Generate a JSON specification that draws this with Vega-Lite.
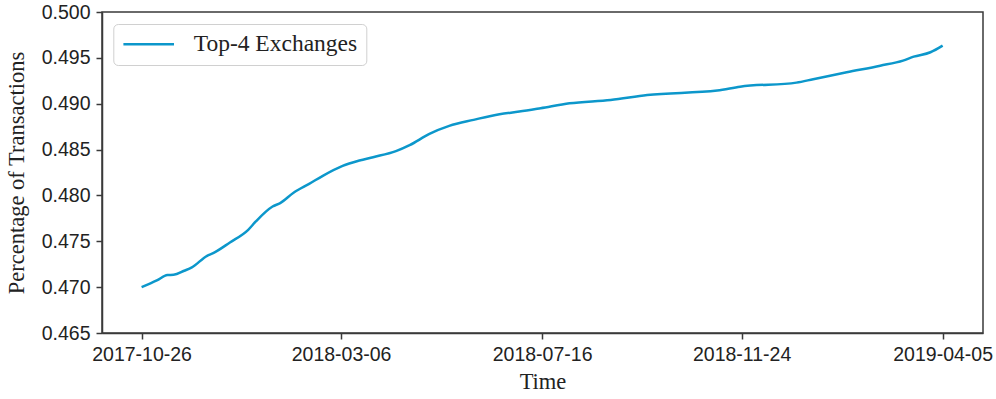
{
  "$schema": "https://vega.github.io/schema/vega-lite/v6.json",
  "width": 881,
  "height": 321,
  "autosize": {"type": "none"},
  "padding": {"left": 102, "top": 12, "right": 13, "bottom": 66},
  "background": "white",
  "config": {
    "view": {"stroke": "#3a3a3a", "strokeWidth": 1.5},
    "axis": {
      "domainColor": "#3a3a3a",
      "domainWidth": 1.5,
      "tickColor": "#3a3a3a",
      "tickWidth": 1.5,
      "tickSize": 6,
      "grid": false,
      "labelFont": "Liberation Sans",
      "labelFontSize": 19.5,
      "labelColor": "#222222",
      "titleFont": "Liberation Serif",
      "titleFontSize": 22.5,
      "titleFontWeight": "normal",
      "titleColor": "#222222"
    }
  },
  "data": {
    "values": [
      {"date": "2017-10-26", "share": 0.4700, "series": "Top-4 Exchanges"},
      {"date": "2017-11-05", "share": 0.47073, "series": "Top-4 Exchanges"},
      {"date": "2017-11-12", "share": 0.47132, "series": "Top-4 Exchanges"},
      {"date": "2017-11-16", "share": 0.47135, "series": "Top-4 Exchanges"},
      {"date": "2017-11-23", "share": 0.47179, "series": "Top-4 Exchanges"},
      {"date": "2017-11-28", "share": 0.47215, "series": "Top-4 Exchanges"},
      {"date": "2017-12-08", "share": 0.47342, "series": "Top-4 Exchanges"},
      {"date": "2017-12-12", "share": 0.47371, "series": "Top-4 Exchanges"},
      {"date": "2017-12-23", "share": 0.47487, "series": "Top-4 Exchanges"},
      {"date": "2018-01-04", "share": 0.47625, "series": "Top-4 Exchanges"},
      {"date": "2018-01-09", "share": 0.47716, "series": "Top-4 Exchanges"},
      {"date": "2018-01-20", "share": 0.47879, "series": "Top-4 Exchanges"},
      {"date": "2018-01-25", "share": 0.47916, "series": "Top-4 Exchanges"},
      {"date": "2018-02-03", "share": 0.48032, "series": "Top-4 Exchanges"},
      {"date": "2018-02-13", "share": 0.48126, "series": "Top-4 Exchanges"},
      {"date": "2018-02-22", "share": 0.48214, "series": "Top-4 Exchanges"},
      {"date": "2018-03-07", "share": 0.48322, "series": "Top-4 Exchanges"},
      {"date": "2018-03-18", "share": 0.4838, "series": "Top-4 Exchanges"},
      {"date": "2018-03-27", "share": 0.48417, "series": "Top-4 Exchanges"},
      {"date": "2018-04-11", "share": 0.48483, "series": "Top-4 Exchanges"},
      {"date": "2018-04-20", "share": 0.48548, "series": "Top-4 Exchanges"},
      {"date": "2018-05-03", "share": 0.48671, "series": "Top-4 Exchanges"},
      {"date": "2018-05-16", "share": 0.48758, "series": "Top-4 Exchanges"},
      {"date": "2018-06-01", "share": 0.48824, "series": "Top-4 Exchanges"},
      {"date": "2018-06-18", "share": 0.48886, "series": "Top-4 Exchanges"},
      {"date": "2018-07-01", "share": 0.48914, "series": "Top-4 Exchanges"},
      {"date": "2018-07-15", "share": 0.48951, "series": "Top-4 Exchanges"},
      {"date": "2018-08-03", "share": 0.49005, "series": "Top-4 Exchanges"},
      {"date": "2018-08-30", "share": 0.49041, "series": "Top-4 Exchanges"},
      {"date": "2018-09-23", "share": 0.49096, "series": "Top-4 Exchanges"},
      {"date": "2018-11-08", "share": 0.49143, "series": "Top-4 Exchanges"},
      {"date": "2018-11-23", "share": 0.49186, "series": "Top-4 Exchanges"},
      {"date": "2018-12-30", "share": 0.4923, "series": "Top-4 Exchanges"},
      {"date": "2019-01-10", "share": 0.49267, "series": "Top-4 Exchanges"},
      {"date": "2019-02-01", "share": 0.49343, "series": "Top-4 Exchanges"},
      {"date": "2019-02-23", "share": 0.49415, "series": "Top-4 Exchanges"},
      {"date": "2019-03-10", "share": 0.4947, "series": "Top-4 Exchanges"},
      {"date": "2019-03-17", "share": 0.49513, "series": "Top-4 Exchanges"},
      {"date": "2019-03-28", "share": 0.49561, "series": "Top-4 Exchanges"},
      {"date": "2019-04-05", "share": 0.49633, "series": "Top-4 Exchanges"}
    ]
  },
  "mark": {"type": "line", "strokeWidth": 2.5, "interpolate": "monotone"},
  "encoding": {
    "x": {
      "field": "date",
      "type": "temporal",
      "scale": {"domain": ["2017-09-30", "2019-05-01T12:00:00Z"], "type": "utc"},
      "axis": {
        "title": "Time",
        "values": ["2017-10-26", "2018-03-06", "2018-07-16", "2018-11-24", "2019-04-05"],
        "labelExpr": "utcFormat(datum.value, '%Y-%m-%d')",
        "labelPadding": 6,
        "titlePadding": 7
      }
    },
    "y": {
      "field": "share",
      "type": "quantitative",
      "scale": {"domain": [0.465, 0.5], "nice": false, "zero": false},
      "axis": {
        "title": "Percentage of Transactions",
        "values": [0.465, 0.47, 0.475, 0.48, 0.485, 0.49, 0.495, 0.5],
        "format": ".3f",
        "labelPadding": 6,
        "titlePadding": 13
      }
    },
    "color": {
      "field": "series",
      "type": "nominal",
      "scale": {"range": ["#0c97cb"]},
      "legend": {
        "title": null,
        "orient": "none",
        "legendX": 11.3,
        "legendY": 12,
        "symbolType": "stroke",
        "symbolSize": 2560,
        "symbolStrokeWidth": 2.5,
        "clipHeight": 23.5,
        "labelFont": "Liberation Serif",
        "labelFontSize": 23.5,
        "labelLimit": 400,
        "labelColor": "#222222",
        "labelOffset": 18,
        "padding": 8.4,
        "strokeColor": "#d0d0d0",
        "fillColor": "white",
        "cornerRadius": 4.5
      }
    }
  }
}
